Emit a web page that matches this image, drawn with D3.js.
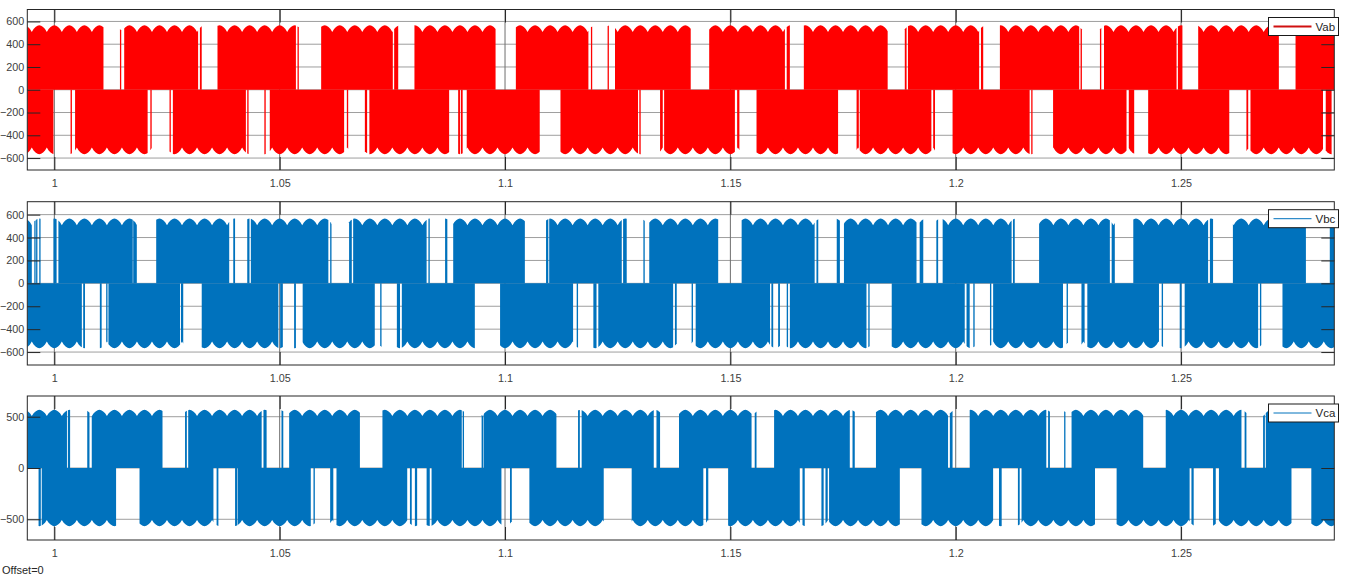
<!DOCTYPE html>
<html><head><meta charset="utf-8">
<script src="https://cdn.jsdelivr.net/npm/d3@7"></script>
<style>
body{margin:0;background:#fff;}
text{font-family:"Liberation Sans",Arial,sans-serif;}
</style>
</head><body>
<svg id="chart" width="1350" height="580"></svg>
<script>
// ---------------- data ----------------
const xDomain = [0.994, 1.284];
const xTicks = [1, 1.05, 1.1, 1.15, 1.2, 1.25];
const xTickLabels = ["1", "1.05", "1.1", "1.15", "1.2", "1.25"];
const yTicks600 = [-600, -400, -200, 0, 200, 400, 600];
const yTicks500 = [-500, 0, 500];
const seriesNames = ["Vab", "Vbc", "Vca"];

// DC-link ripple (300 Hz) seen on the top of every PWM burst: one scallop [phase, volts]
const ripplePeriod = 1 / 300;
const rippleStart = 0.99833;
const rippleShape = [[0,508],[0.12,533],[0.25,552],[0.38,563],[0.5,567],[0.62,563],[0.75,552],[0.88,533],[1,508]];

// PWM bursts: [start s, end s] where the line voltage switches to +Vdc / -Vdc
const vabPos = [[0.994,1.0109],[1.0146,1.0148],[1.0155,1.0319],[1.0323,1.0327],[1.0362,1.0536],[1.0540,1.0542],[1.0592,1.0751],[1.0754,1.0763],[1.0799,1.0979],[1.1024,1.1185],[1.1191,1.1193],[1.1228,1.1230],[1.1244,1.1412],[1.1453,1.1621],[1.1625,1.1632],[1.1663,1.1849],[1.1887,1.1891],[1.1894,1.2052],[1.2056,1.2061],[1.2098,1.2274],[1.2277,1.2280],[1.2320,1.2323],[1.2329,1.2490],[1.2493,1.2503],[1.2538,1.2717],[1.2754,1.284]];
const vabNeg = [[0.994,0.9998],[1.0036,1.0039],[1.0046,1.0207],[1.0213,1.0216],[1.0256,1.0258],[1.0263,1.0425],[1.0428,1.0431],[1.0466,1.0469],[1.0478,1.0643],[1.0649,1.0652],[1.0689,1.0694],[1.0699,1.0876],[1.0896,1.0900],[1.0902,1.0906],[1.0915,1.1077],[1.1123,1.1295],[1.1298,1.1301],[1.1344,1.1350],[1.1353,1.1510],[1.1515,1.1520],[1.1558,1.1739],[1.1780,1.1785],[1.1787,1.1946],[1.1950,1.1954],[1.1993,1.2164],[1.2168,1.2170],[1.2216,1.2379],[1.2384,1.2396],[1.2427,1.2607],[1.2645,1.2649],[1.2654,1.2815],[1.2821,1.2834]];
const vbcPos = [[0.994,0.9950],[0.9956,0.9958],[0.9960,0.9962],[0.9967,0.9969],[0.9998,1.0005],[1.0009,1.0174],[1.0175,1.0183],[1.0226,1.0388],[1.0397,1.0401],[1.0428,1.0433],[1.0436,1.0608],[1.0612,1.0615],[1.0654,1.0660],[1.0663,1.0826],[1.0830,1.0833],[1.0867,1.0872],[1.0885,1.1044],[1.1091,1.1096],[1.1098,1.1259],[1.1262,1.1270],[1.1307,1.1310],[1.1320,1.1473],[1.1525,1.1687],[1.1691,1.1695],[1.1736,1.1743],[1.1752,1.1913],[1.1920,1.1928],[1.1957,1.1961],[1.1971,1.2124],[1.2127,1.2131],[1.2185,1.2342],[1.2346,1.2353],[1.2394,1.2560],[1.2564,1.2571],[1.2615,1.2777],[1.2830,1.284]];
const vbcNeg = [[0.994,1.0061],[1.0064,1.0068],[1.0101,1.0105],[1.0115,1.0118],[1.0120,1.0279],[1.0281,1.0286],[1.0327,1.0497],[1.0501,1.0507],[1.0532,1.0536],[1.0551,1.0711],[1.0723,1.0726],[1.0760,1.0767],[1.0771,1.0933],[1.0989,1.1151],[1.1159,1.1162],[1.1196,1.1203],[1.1207,1.1373],[1.1377,1.1381],[1.1414,1.1417],[1.1423,1.1588],[1.1591,1.1595],[1.1606,1.1610],[1.1625,1.1628],[1.1632,1.1802],[1.1806,1.1809],[1.1858,1.2020],[1.2024,1.2031],[1.2039,1.2042],[1.2076,1.2079],[1.2083,1.2238],[1.2246,1.2249],[1.2279,1.2286],[1.2292,1.2451],[1.2457,1.2460],[1.2497,1.2501],[1.2508,1.2671],[1.2675,1.2678],[1.2725,1.284]];
const vcaPos = [[0.994,1.0028],[1.0030,1.0035],[1.0073,1.0078],[1.0083,1.0240],[1.0290,1.0294],[1.0297,1.0460],[1.0464,1.0471],[1.0504,1.0508],[1.0521,1.0678],[1.0728,1.0904],[1.0906,1.0909],[1.0948,1.0952],[1.0953,1.1114],[1.1162,1.1166],[1.1170,1.1330],[1.1336,1.1344],[1.1386,1.1547],[1.1554,1.1558],[1.1597,1.1765],[1.1771,1.1776],[1.1823,1.1983],[1.1987,1.1993],[1.2031,1.2201],[1.2205,1.2209],[1.2241,1.2243],[1.2257,1.2416],[1.2466,1.2634],[1.2641,1.2645],[1.2682,1.2686],[1.2688,1.284]];
const vcaNeg = [[0.9965,0.9970],[0.9972,1.0137],[1.0189,1.0353],[1.0360,1.0364],[1.0401,1.0406],[1.0407,1.0569],[1.0575,1.0578],[1.0612,1.0619],[1.0626,1.0783],[1.0789,1.0793],[1.0800,1.0805],[1.0826,1.0833],[1.0837,1.0992],[1.1011,1.1015],[1.1054,1.1219],[1.1281,1.1440],[1.1446,1.1451],[1.1495,1.1654],[1.1660,1.1665],[1.1702,1.1707],[1.1711,1.1716],[1.1719,1.1876],[1.1924,1.2083],[1.2096,1.2102],[1.2138,1.2142],[1.2146,1.2309],[1.2357,1.2519],[1.2523,1.2528],[1.2571,1.2577],[1.2584,1.2745],[1.2789,1.284]];

// ---------------- layout ----------------
const svg = d3.select("#chart");
const left = 27.3, right = 1334.3;
const fontSize = "10.8px";
const panels = [
  {name: seriesNames[0], pos: vabPos, neg: vabNeg, color: "#ff0000", legendColor: "#d01010", legendStroke: 2, top: 9.5, bottom: 170, yMax: 705, ticks: yTicks600},
  {name: seriesNames[1], pos: vbcPos, neg: vbcNeg, color: "#0072bd", legendColor: "#0072bd", legendStroke: 1, top: 201.7, bottom: 365, yMax: 713, ticks: yTicks600},
  {name: seriesNames[2], pos: vcaPos, neg: vcaNeg, color: "#0072bd", legendColor: "#0072bd", legendStroke: 1, top: 396, bottom: 540, yMax: 702, ticks: yTicks500}
];

const x = d3.scaleLinear().domain(xDomain).range([left, right]);

function env(t) {
  let p = (t - rippleStart) / ripplePeriod;
  p = p - Math.floor(p);
  for (let i = 0; i < rippleShape.length - 1; i++) {
    const a = rippleShape[i], b = rippleShape[i + 1];
    if (p >= a[0] && p <= b[0]) return a[1] + (b[1] - a[1]) * (p - a[0]) / (b[0] - a[0]);
  }
  return rippleShape[0][1];
}
function burstPoints(t0, t1) {
  const pts = [[t0, env(t0)]];
  let n = Math.floor((t0 - rippleStart) / ripplePeriod);
  while (rippleStart + n * ripplePeriod < t1) {
    for (const s of rippleShape) {
      const t = rippleStart + (n + s[0]) * ripplePeriod;
      if (t > t0 && t < t1) pts.push([t, s[1]]);
    }
    n++;
  }
  pts.push([t1, env(t1)]);
  return pts;
}
const line = d3.line();

panels.forEach((P, pi) => {
  const y = d3.scaleLinear().domain([-P.yMax, P.yMax]).range([P.bottom, P.top]);
  const g = svg.append("g");
  const clipId = "clip" + pi;
  svg.append("clipPath").attr("id", clipId).append("rect")
    .attr("x", left).attr("y", P.top).attr("width", right - left).attr("height", P.bottom - P.top);

  // grid
  g.append("g").selectAll("line").data(P.ticks).join("line")
    .attr("x1", left).attr("x2", right).attr("y1", d => y(d)).attr("y2", d => y(d))
    .attr("stroke", "#9e9e9e").attr("stroke-width", 1);
  g.append("g").selectAll("line").data(xTicks).join("line")
    .attr("x1", d => x(d)).attr("x2", d => x(d)).attr("y1", P.top).attr("y2", P.bottom)
    .attr("stroke", "#6e6e6e").attr("stroke-width", 1);

  // PWM bursts
  const dg = g.append("g").attr("clip-path", `url(#${clipId})`);
  [[P.pos, 1], [P.neg, -1]].forEach(([arr, sgn]) => {
    arr.forEach(([t0, t1]) => {
      let x0 = x(t0), x1 = x(t1);
      if (x1 - x0 < 1.3) { const c = (x0 + x1) / 2; x0 = c - 0.65; x1 = c + 0.65; }
      const pts = burstPoints(t0, t1);
      const kx = (x1 - x0) / Math.max(1e-9, x(t1) - x(t0));
      const poly = [[x0, y(0)]].concat(pts.map(p => [x0 + (x(p[0]) - x(t0)) * kx, y(sgn * p[1])])).concat([[x1, y(0)]]);
      dg.append("path").attr("d", line(poly) + "Z").attr("fill", P.color).attr("stroke", "none");
    });
  });

  // ticks (inward) + labels
  const ink = "#262626";
  const axL = g.append("g").attr("transform", `translate(${left},0)`)
    .call(d3.axisLeft(y).tickValues(P.ticks).tickSize(-13).tickPadding(3));
  const axR = g.append("g").attr("transform", `translate(${right},0)`)
    .call(d3.axisRight(y).tickValues(P.ticks).tickSize(-13).tickFormat(""));
  const axB = g.append("g").attr("transform", `translate(0,${P.bottom})`)
    .call(d3.axisBottom(x).tickValues(xTicks).tickSize(-13).tickPadding(9).tickFormat((d, i) => xTickLabels[i]));
  const axT = g.append("g").attr("transform", `translate(0,${P.top})`)
    .call(d3.axisTop(x).tickValues(xTicks).tickSize(-13).tickFormat(""));
  [axL, axR, axB, axT].forEach(a => {
    a.select(".domain").remove();
    a.selectAll("line").attr("stroke", ink);
    a.selectAll("text").attr("fill", "#404040").style("font-size", fontSize).style("font-family", '"Liberation Sans",Arial,sans-serif');
  });

  // box
  g.append("rect").attr("x", left).attr("y", P.top).attr("width", right - left).attr("height", P.bottom - P.top)
    .attr("fill", "none").attr("stroke", ink).attr("stroke-width", 1);

  // legend
  const lx = 1268.5, ly = P.top + 8;
  const lg = g.append("g");
  lg.append("rect").attr("x", lx).attr("y", ly).attr("width", 70).attr("height", 18)
    .attr("fill", "#fff").attr("stroke", "#1a1a1a").attr("stroke-width", 1);
  lg.append("line").attr("x1", lx + 5).attr("x2", lx + 43).attr("y1", ly + 9).attr("y2", ly + 9)
    .attr("stroke", P.legendColor).attr("stroke-width", P.legendStroke);
  lg.append("text").attr("x", lx + 47).attr("y", ly + 13).text(P.name)
    .attr("fill", "#262626").style("font-size", "11.5px");
});

svg.append("text").attr("x", 2).attr("y", 574).text("Offset=0")
  .attr("fill", "#262626").style("font-size", "11px");
</script>
</body></html>
